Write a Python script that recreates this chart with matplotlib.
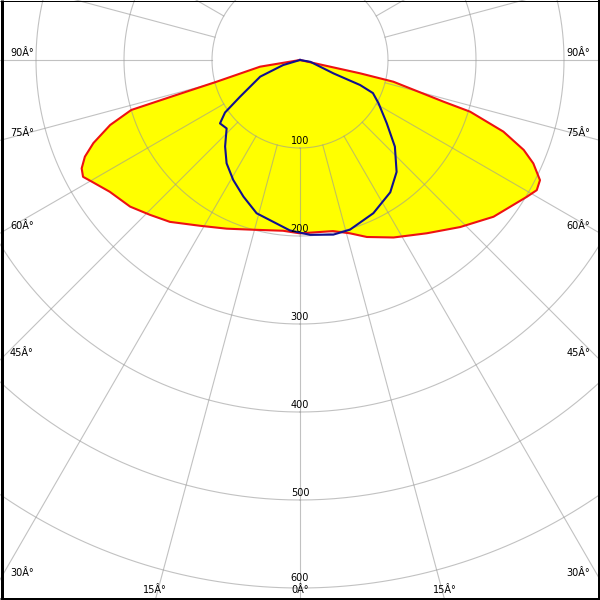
import numpy as np
import matplotlib
matplotlib.use("Agg")
import matplotlib.pyplot as plt
from matplotlib.lines import Line2D

# ---- data (angle in degrees, 0 = straight down, + = right side; intensity in cd) ----
red_angles = [-90, -80.5, -75.4, -74.2, -73.5, -71.1, -68.1, -65.8, -63.6, -61.7, -59.7,
              -55.3, -49.2, -44.1, -38.8, -31.1, -23.5, -16.5, -5.7, 0, 10.9, 16.1, 20.7,
              27.8, 36.2, 43.8, 51.0, 58.9, 61.2, 63.4, 66.1, 68.1, 70.6, 73.1, 73.8, 76.9,
              77.5, 90]
red_values = [0, 46, 98, 146, 200, 228, 253, 268, 277, 280, 274,
              263, 255, 245, 236, 220, 209, 201, 195, 197, 198, 205, 215,
              228, 244, 263, 283, 301, 307, 305, 290, 274, 245, 202, 170, 109,
              70, 0]

blue_angles = [-90, -73.3, -67.3, -58.5, -55.0, -51.6, -47.0, -40.9, -35.4, -29.1, -22.5,
               -15.8, -3.4, 3.3, 10.8, 16.4, 25.6, 34.3, 40.8, 47.6, 53.9, 61.1, 65.6,
               67.4, 68.2, 80, 90]
blue_values = [0, 20, 49, 80, 104, 116, 114, 130, 144, 156, 168,
               181, 194, 199, 202, 201, 193, 182, 168, 146, 122, 102, 91,
               74, 41, 12, 0]

ring_values = [100, 200, 300, 400, 500, 600]
ring_labels = ["100", "200", "300", "400", "500", "600"]
side_angles = [90, 75, 60, 45, 30]
side_labels = ["90Â°", "75Â°", "60Â°", "45Â°", "30Â°"]
bottom_angles = [-15, 0, 15]
bottom_labels = ["15Â°", "0Â°", "15Â°"]

# ---- layout ----
W = H = 600
CX, CY = 300, 60            # pole position in pixels (from top-left)
PX_PER_CD = 0.88
RMAX = 720
R_PX = RMAX * PX_PER_CD

fig = plt.figure(figsize=(6, 6), dpi=100)
fig.patch.set_facecolor("white")
ax = fig.add_axes([(CX - R_PX) / W, ((H - CY) - R_PX) / H, 2 * R_PX / W, 2 * R_PX / H],
                  projection="polar")
ax.set_theta_zero_location("S")
ax.set_theta_direction(1)
ax.set_ylim(0, RMAX)
ax.set_axis_off()

rt = np.deg2rad(red_angles)
bt = np.deg2rad(blue_angles)

ax.fill(rt, red_values, color="#ffff00", zorder=1, lw=0)

grid_kw = dict(color="#999999", alpha=0.6, lw=0.8, zorder=2)
full = np.linspace(0, 2 * np.pi, 721)
for rv in ring_values:
    ax.plot(full, np.full_like(full, rv), **grid_kw)
for k in range(24):
    a = np.deg2rad(15 * k)
    ax.plot([a, a], [ring_values[0], RMAX], **grid_kw)

ax.plot(rt, red_values, color="#ee1111", lw=1.5, zorder=3, solid_joinstyle="round")
ax.plot(bt, blue_values, color="#101090", lw=1.5, zorder=4, solid_joinstyle="round")

txt_kw = dict(fontsize=7, color="black", family="DejaVu Sans")
for rv, lab in zip(ring_values, ring_labels):
    off = 10 if rv == ring_values[-1] else 7
    ax.annotate(lab, (0, rv), xytext=(0, off), textcoords="offset pixels",
                ha="center", va="center", zorder=6, **txt_kw)

for a, lab in zip(side_angles, side_labels):
    ypx = CY + CX / np.tan(np.deg2rad(a)) - 7
    fig.text(10 / W, 1 - ypx / H, lab, ha="left", va="center", **txt_kw)
    fig.text(590 / W, 1 - ypx / H, lab, ha="right", va="center", **txt_kw)

for a, lab in zip(bottom_angles, bottom_labels):
    xpx = CX + (H - CY) * np.tan(np.deg2rad(a))
    fig.text(xpx / W, 1 - 590 / H, lab, ha="center", va="center", **txt_kw)

# frame
def fline(x0, y0, x1, y1, w):
    fig.add_artist(Line2D([x0 / W, x1 / W], [1 - y0 / H, 1 - y1 / H],
                          color="black", lw=w * 0.72, transform=fig.transFigure,
                          solid_capstyle="butt", zorder=10))

fline(1.5, 0, 1.5, 600, 3)
fline(0, 598.5, 600, 598.5, 3)
fline(0, 0.5, 600, 0.5, 1)
fline(599, 0, 599, 600, 2)

fig.savefig("out.png", dpi=100)
